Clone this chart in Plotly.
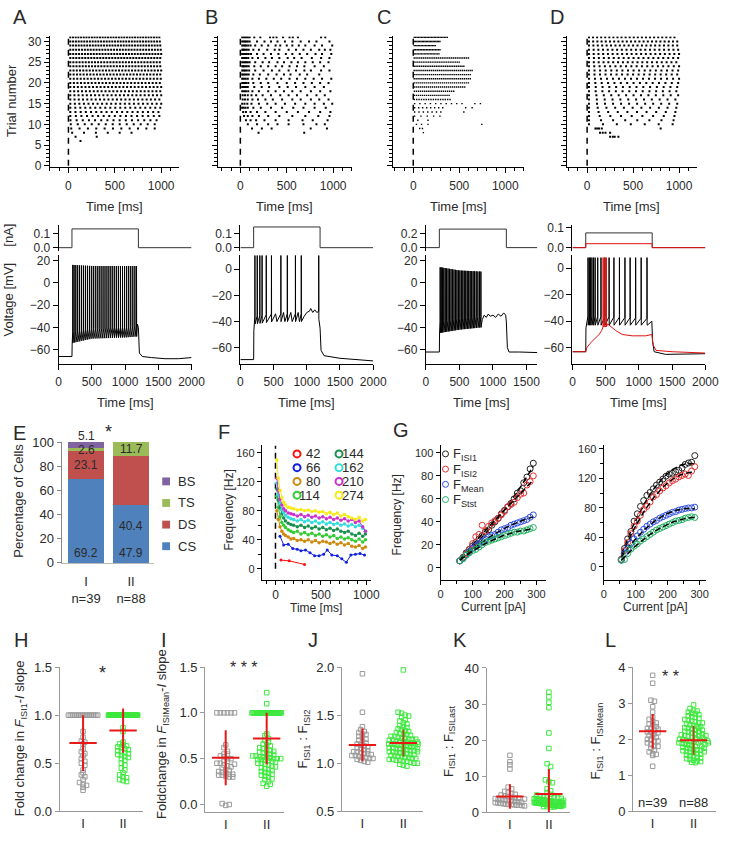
import numpy as np
import plotly.graph_objects as go

W, H = 733, 841
FONT = "Liberation Sans, Arial, sans-serif"
TXT = "#2a2a2a"

# ---------------- DATA ----------------
# Raster A (trial, first spike, last spike, spike count)
A_trials = list(range(6, 32))
A_first = [130, 77, 40, 30, 25, 22, 20, 20, 20, 20, 20, 20, 20, 20, 20, 20, 20, 20, 20, 20, 20, 20, 20, 20, 20, 20]
A_last = [130, 305, 680, 930, 930, 950, 980, 970, 990, 1000, 980, 1000, 990, 1000, 985, 995, 990, 1000, 990, 985, 990, 1000, 995, 990, 985, 980]
A_count = [1, 2, 6, 11, 13, 15, 17, 18, 19, 21, 22, 23, 24, 25, 26, 27, 28, 29, 30, 30, 31, 32, 32, 33, 33, 34]

# Raster B (explicit spike times per trial)
B_spikes = {
    31: [20, 40, 60, 80, 100, 150, 215, 320, 355, 390, 460, 530, 565, 620, 870, 915],
    30: [20, 35, 50, 65, 80, 100, 180, 260, 330, 400, 480, 560, 650, 740, 820, 960],
    29: [20, 35, 50, 65, 85, 110, 160, 230, 300, 380, 430, 500, 560, 630, 700, 800, 880, 990],
    28: [20, 30, 40, 55, 70, 90, 140, 200, 290, 370, 420, 520, 600, 680, 760, 850, 910, 970],
    27: [20, 30, 42, 55, 70, 90, 115, 180, 250, 330, 410, 490, 560, 640, 720, 810, 880, 980],
    26: [20, 35, 50, 65, 85, 130, 190, 270, 340, 420, 510, 580, 660, 770, 870, 960],
    25: [20, 35, 50, 65, 80, 100, 160, 240, 310, 400, 470, 550, 620, 700, 780, 860, 950],
    24: [20, 30, 40, 55, 70, 90, 150, 220, 300, 380, 450, 530, 610, 690, 800, 900],
    23: [20, 35, 50, 70, 95, 160, 250, 340, 420, 520, 600, 690, 760, 870, 960],
    22: [20, 35, 52, 70, 90, 140, 210, 300, 390, 470, 540, 640, 720, 850],
    21: [20, 38, 58, 80, 130, 200, 280, 360, 440, 530, 610, 700, 790, 880, 980],
    20: [20, 40, 60, 85, 140, 220, 300, 400, 500, 590, 680, 770, 860, 950],
    19: [20, 30, 45, 60, 80, 150, 230, 310, 420, 510, 600, 700, 800, 900],
    18: [20, 40, 60, 85, 130, 200, 300, 380, 470, 560, 650, 760, 860, 970],
    17: [25, 50, 80, 120, 170, 240, 330, 430, 520, 610, 720, 820, 910],
    16: [25, 50, 80, 130, 190, 270, 350, 450, 560, 650, 760, 850, 950],
    15: [20, 45, 75, 120, 200, 290, 380, 480, 590, 700, 800, 900, 990],
    14: [20, 35, 55, 80, 140, 220, 330, 450, 570, 680, 800, 920],
    13: [30, 60, 110, 180, 270, 380, 500, 620, 740, 860, 970],
    12: [40, 80, 130, 200, 300, 420, 560, 700, 840, 960],
    11: [60, 110, 170, 260, 380, 520, 670, 780, 940],
    10: [80, 180, 300, 400, 520, 680, 820, 910],
    9: [126, 232, 337, 758, 933],
    8: [196, 688],
}

# Raster C
C_trials = list(range(12, 32))
C_first = [15, 15, 15, 15, 12, 12, 12, 10, 10, 10, 10, 10, 10, 10, 10, 10, 10, 10, 10, 10]
C_last = [290, 300, 320, 530, 400, 390, 440, 560, 600, 620, 620, 640, 550, 500, 600, 280, 290, 240, 290, 370]
C_count = [5, 7, 8, 10, 16, 18, 20, 26, 28, 30, 30, 31, 28, 26, 30, 18, 18, 16, 20, 24]
C_extra = {8: [110], 9: [70, 100], 10: [35, 90, 160, 745], 11: [50, 160], 13: [550], 14: [570, 640], 15: [670, 730]}

# Raster D
D_trials = list(range(10, 32))
D_first = [20] * 22
D_last = [930, 940, 950, 960, 970, 980, 960, 990, 970, 980, 990, 1000, 980, 990, 1000, 970, 990, 1000, 990, 980, 980, 950]
D_count = [7, 8, 9, 10, 11, 12, 12, 13, 14, 14, 15, 16, 17, 17, 18, 19, 19, 20, 20, 21, 22, 22]
D_extra = {7: [250, 280, 300, 340], 8: [140, 170, 200, 250], 9: [90, 110, 130, 160, 800]}

# Current steps [nA]
step_t = [0, 200, 200, 1200, 1200, 2000]
step_amp = {"A": 0.136, "B": 0.15, "C": 0.27, "D": 0.075, "Dred": 0.02}

# Voltage traces: spike times [ms], envelopes and subthreshold key points
A_spk = [212, 232, 258, 286, 315, 345, 375, 405, 435, 466, 497, 527, 558, 589, 620, 651, 682, 713, 744,
         775, 806, 837, 868, 899, 930, 961, 992, 1023, 1054, 1085, 1116, 1147, 1172]
A_env = dict(t=[200, 500, 1000, 1200], ahp=[-54, -50, -49, -48], thr=[-44, -41, -40, -38], peak=[16, 15, 15, 15])
A_pre = dict(t=[0, 200, 203], v=[-66, -66, -55])
A_sub = dict(t=[1185, 1200, 1215, 1260, 1400, 1600, 1800, 2000], v=[-37, -40, -63, -66, -67, -68, -68, -67])

B_spk = [219, 254, 293, 327, 390, 468, 610, 707, 829, 917, 1180]
B_env = dict(t=[200, 500, 1000, 1200], ahp=[-42, -40, -40, -38], thr=[-36, -34, -34, -32], peak=[12, 12, 12, 12])
B_pre = dict(t=[0, 200, 203], v=[-69, -69, -47])
B_sub = dict(t=[530, 550, 650, 670, 760, 780, 870, 890, 960, 1000, 1040, 1060, 1090, 1120, 1150, 1170,
                1200, 1215, 1260, 1500, 2000],
             v=[-34, -40, -33, -40, -33, -40, -33, -40, -36, -33, -32, -30, -33, -31, -33, -32,
                -45, -62, -66, -68, -70])

C_spk = [212, 228, 246, 266, 287, 308, 330, 352, 374, 396, 418, 440, 462, 484, 506, 528, 550, 572,
         594, 616, 638, 660, 682, 704, 726, 750, 775, 800, 820]
C_env = dict(t=[200, 500, 820], ahp=[-45, -42, -40], thr=[-35, -32, -30], peak=[14, 11, 10])
C_pre = dict(t=[0, 200, 203], v=[-62, -62, -45])
C_sub = dict(t=[840, 870, 900, 930, 960, 1000, 1040, 1080, 1120, 1160, 1190, 1200, 1215, 1240, 1400, 1662],
             v=[-33, -29, -31, -28, -30, -29, -31, -28, -30, -27, -29, -35, -58, -62, -62, -62.5])

D_spk = [234, 254, 273, 293, 317, 341, 380, 429, 488, 551, 624, 707, 790, 868, 951, 1034, 1122]
D_env = dict(t=[200, 1200], ahp=[-43, -43], thr=[-36, -38], peak=[8, 8])
D_pre = dict(t=[0, 200, 203], v=[-63, -63, -45])
D_sub = dict(t=[1150, 1195, 1205, 1230, 1400, 2000], v=[-42, -40, -55, -63, -65, -64.5])

Dr_spk = [462, 485, 510]
Dr_env = dict(t=[400, 600], ahp=[-44, -44], thr=[-44, -44], peak=[8, 8])
Dr_pre = dict(t=[0, 200], v=[-63, -63])
Dr_sub = dict(t=[215, 260, 320, 400, 440, 530, 580, 650, 750, 900, 1100, 1195, 1215, 1260, 1500, 2000],
              v=[-60, -57, -54, -50, -47, -42, -44, -47, -50, -51, -51, -50, -58, -62, -63, -64])

# Panel E: firing types (%)
E_groups = ["I", "II"]
E_n = [39, 88]
E_types = ["CS", "DS", "TS", "BS"]
E_values = {"CS": [69.2, 47.9], "DS": [23.1, 40.4], "TS": [2.6, 11.7], "BS": [5.1, 0.0]}
E_colors = {"CS": "#4F81BD", "DS": "#C0504D", "TS": "#9BBB59", "BS": "#8064A2"}

# Panel F: instantaneous frequency over time for different currents [pA]
F_t = [15, 30, 50, 70, 90, 110, 140, 170, 200, 240, 280, 320, 360, 400, 440, 480, 520, 560, 600, 640,
       680, 720, 760, 800, 840, 880, 920, 960, 990]
F_series = {
    "80": [80, 68, 58, 52, 48, 46, 44, 41, 42, 39, 40, 38, 40, 37, 39, 36, 38, 37, 35, 37, 34, 36, 33, 35, 31, 30, 32, 28, 30],
    "114": [100, 85, 72, 64, 60, 57, 54, 52, 50, 52, 48, 50, 47, 49, 46, 48, 45, 47, 44, 46, 42, 44, 41, 43, 40, 38, 41, 37, 40],
    "144": [110, 95, 84, 76, 70, 66, 63, 61, 60, 58, 60, 57, 59, 56, 58, 55, 57, 54, 56, 53, 55, 52, 50, 52, 48, 46, 49, 45, 48],
    "162": [118, 102, 90, 82, 78, 74, 71, 69, 68, 66, 68, 65, 67, 64, 66, 63, 65, 62, 64, 61, 63, 60, 62, 59, 61, 58, 60, 56, 52],
    "210": [125, 108, 96, 88, 83, 80, 77, 76, 75, 73, 75, 72, 74, 71, 73, 70, 72, 69, 71, 68, 70, 67, 69, 66, 68, 64, 66, 58, 52],
    "274": [150, 125, 108, 98, 92, 88, 85, 84, 83, 81, 82, 80, 81, 79, 80, 78, 79, 76, 78, 75, 77, 73, 75, 72, 70, 68, 71, 66, 68],
}
F66_t = [50, 90, 140, 190, 240, 280, 330, 380, 430, 480, 530, 570, 620, 680, 730, 780, 830, 880, 930, 980]
F66_v = [45, 33, 34, 28, 27, 25, 26, 22, 18, 18, 20, 26, 19, 18, 14, 9, 19, 20, 21, 19]
F42_t = [60, 150, 320]
F42_v = [12, 11, 6]
F_order = ["42", "66", "80", "114", "144", "162", "210", "274"]
F_colors = {"42": "#ff1010", "66": "#1020e0", "80": "#cc8a10", "114": "#33cc33", "144": "#1a9050",
            "162": "#33dddd", "210": "#cc33cc", "274": "#f7ea10"}

# Panel G: F-I curves
G1_I = [60, 70, 80, 90, 100, 110, 120, 130, 140, 150, 160, 170, 180, 190, 200, 210, 220, 230, 240, 250, 260, 270, 280, 290]
G1 = {
    "ISI1": [6, 9, 13, 16, 19, 22, 25, 28, 31, 33, 37, 40, 43, 47, 50, 53, 56, 60, 65, 67, 74, 79, 86, 91],
    "ISI2": [6, 9, 12, 16, 21, 27, 29, 37, 32, 36, 39, 41, 43, 46, 49, 53, 55, 57, 61, 64, 65, 72, 75, 80],
    "Mean": [6, 8, 11, 14, 17, 19, 21, 23, 25, 27, 28, 29, 31, 33, 34, 35, 37, 38, 39, 40, 41, 42, 44, 46],
    "Stst": [6, 8, 11, 13, 15, 16, 18, 20, 22, 23, 24, 25, 26, 27, 28, 29, 30, 31, 31, 32, 32, 33, 34, 35],
}
G2_I = [55, 65, 75, 85, 95, 105, 115, 125, 135, 145, 155, 165, 175, 185, 195, 205, 215, 225, 235, 245, 255, 265, 275, 285]
G2 = {
    "ISI1": [10, 25, 38, 48, 62, 72, 82, 90, 97, 101, 106, 111, 115, 119, 123, 126, 127, 129, 131, 134, 139, 141, 142, 151],
    "ISI2": [10, 22, 33, 45, 55, 62, 70, 78, 82, 88, 95, 98, 103, 107, 110, 114, 117, 119, 122, 124, 126, 124, 130, 136],
    "Mean": [9, 18, 25, 32, 38, 42, 47, 51, 55, 58, 61, 63, 66, 68, 70, 72, 74, 75, 77, 78, 79, 80, 80, 81],
    "Stst": [9, 10, 18, 24, 28, 31, 35, 38, 41, 44, 47, 50, 52, 54, 56, 58, 60, 62, 63, 64, 66, 67, 68, 67],
}
G_keys = ["ISI1", "ISI2", "Mean", "Stst"]
G_colors = {"ISI1": "#222222", "ISI2": "#e83030", "Mean": "#3050e0", "Stst": "#20b060"}

# Panels H-L: per-cell values, group I (n=39) and group II (n=88)
H_I = [1.0] * 16 + [0.83, 0.77, 0.73, 0.72, 0.7, 0.65, 0.62, 0.6, 0.58, 0.55, 0.52, 0.5, 0.48, 0.43, 0.4,
                    0.38, 0.36, 0.33, 0.3, 0.28, 0.27, 0.25, 0.22]
H_II = [1.0] * 57 + [0.87, 0.83, 0.72, 0.7, 0.69, 0.68, 0.67, 0.66, 0.65, 0.64, 0.63, 0.62, 0.61, 0.6, 0.59,
                     0.58, 0.57, 0.56, 0.55, 0.53, 0.5, 0.48, 0.45, 0.43, 0.4, 0.38, 0.36, 0.35, 0.33, 0.32, 0.31]
I_I = [1.0] * 6 + [0.65, 0.62, 0.55, 0.55, 0.53, 0.52, 0.5, 0.5, 0.48, 0.47, 0.45, 0.45, 0.43, 0.42, 0.41, 0.4,
                   0.38, 0.37, 0.36, 0.35, 0.34, 0.33, 0.33, 0.32, 0.32, 0.31, 0.3, 0.3, 0.01, -0.01, 0.0, 0.58, 0.44]
I_II = [1.22, 1.1] + [1.0] * 30 + [0.77, 0.75, 0.72, 0.7, 0.68, 0.66, 0.65, 0.64, 0.62, 0.61, 0.6, 0.59, 0.58, 0.57,
                                    0.56, 0.55, 0.55, 0.54, 0.53, 0.53, 0.52, 0.52, 0.51, 0.51, 0.5, 0.5, 0.5, 0.49,
                                    0.49, 0.48, 0.48, 0.47, 0.46, 0.45, 0.45, 0.44, 0.43, 0.42, 0.41, 0.4, 0.39, 0.38,
                                    0.37, 0.36, 0.35, 0.34, 0.33, 0.32, 0.31, 0.3, 0.28, 0.27, 0.25, 0.23, 0.2, 0.22]
J_I = [1.93, 1.53, 1.38, 1.35, 1.33, 1.32, 1.3, 1.3, 1.28, 1.27, 1.25, 1.24, 1.22, 1.21, 1.2, 1.19, 1.18, 1.17,
       1.16, 1.15, 1.14, 1.13, 1.12, 1.12, 1.11, 1.1, 1.1, 1.09, 1.08, 1.08, 1.07, 1.06, 1.06, 1.05, 1.05, 1.04,
       1.03, 1.02, 1.01]
J_II = [1.97, 1.53, 1.52, 1.5, 1.49, 1.48, 1.45, 1.44, 1.42, 1.41, 1.39, 1.38,
        1.37, 1.36, 1.35, 1.34, 1.33, 1.32, 1.31, 1.3, 1.3, 1.29, 1.28, 1.28, 1.27, 1.26, 1.26, 1.25, 1.25, 1.24,
        1.24, 1.23, 1.23, 1.22, 1.22, 1.21, 1.21, 1.2, 1.2, 1.2, 1.19, 1.19, 1.18, 1.18, 1.17, 1.17, 1.16, 1.16,
        1.15, 1.15, 1.14, 1.14, 1.13, 1.13, 1.12, 1.12, 1.11, 1.11, 1.1, 1.1, 1.09, 1.09, 1.08, 1.08, 1.07, 1.07,
        1.06, 1.06, 1.05, 1.05, 1.04, 1.04, 1.03, 1.03, 1.02, 1.02, 1.01, 1.0, 1.0, 0.99, 0.98, 0.97, 1.18, 1.22,
        1.15, 1.25, 1.12, 1.2]
K_I = [15.8, 14, 13.2, 12, 7, 6.5, 5.8, 5.5, 5.2, 5, 4.8, 4.6, 4.4, 4.2, 4, 3.9, 3.8, 3.6, 3.5, 3.4, 3.3, 3.2,
       3.1, 3, 2.9, 2.8, 2.7, 2.6, 2.5, 2.4, 2.3, 2.2, 2.2, 2.1, 2, 2, 1.9, 1.8, 3.7]
K_II = [33.3, 32, 30.5, 29, 22, 17.7, 13.5, 12.7, 9, 8.5, 8.2, 6.5, 6, 5.5,
        5.0, 4.8, 4.6, 4.5, 4.4, 4.2, 4.1, 4.0, 3.9, 3.8, 3.8, 3.7, 3.6, 3.6, 3.5, 3.5, 3.4, 3.4, 3.3, 3.3, 3.2,
        3.2, 3.1, 3.1, 3.0, 3.0, 3.0, 2.9, 2.9, 2.9, 2.8, 2.8, 2.8, 2.7, 2.7, 2.7, 2.6, 2.6, 2.6, 2.5, 2.5, 2.5,
        2.4, 2.4, 2.4, 2.3, 2.3, 2.3, 2.2, 2.2, 2.2, 2.1, 2.1, 2.1, 2.0, 2.0, 2.0, 1.9, 1.9, 1.9, 1.8, 1.8, 1.8,
        1.7, 1.7, 1.7, 1.6, 1.6, 1.5, 1.5, 3.3, 2.6, 2.2, 1.9]
L_I = [3.77, 3.55, 3.08, 3.05, 2.9, 2.75, 2.6, 2.55, 2.5, 2.45, 2.42, 2.4, 2.35, 2.3, 2.3, 2.25, 2.2, 2.2, 2.15,
       2.1, 2.1, 2.05, 2.0, 2.0, 1.95, 1.95, 1.9, 1.85, 1.8, 1.8, 1.75, 1.7, 1.65, 1.6, 1.58, 1.55, 1.25, 2.28, 2.18]
L_II = [2.95, 2.85, 2.8, 2.78, 2.75, 2.72, 2.7, 2.68, 2.65, 2.62, 2.6, 2.58, 2.55, 2.52, 2.5, 2.48, 2.45, 2.42,
        2.4, 2.38, 2.35, 2.32, 2.3, 2.28, 2.25, 2.22, 2.2, 2.18, 2.15, 2.12, 2.1, 2.08, 2.05, 2.03, 2.0, 1.98,
        1.96, 1.94, 1.92, 1.9, 1.88, 1.86, 1.84, 1.82, 1.8, 1.78, 1.76, 1.74, 1.72, 1.7, 1.68, 1.66, 1.64, 1.62,
        1.6, 1.58, 1.56, 1.54, 1.52, 1.5, 1.48, 1.46, 1.44, 1.42, 1.4, 1.38, 1.36, 1.35, 2.3, 2.2, 2.1, 2.0, 1.9,
        1.8, 1.7, 2.25, 2.15, 2.05, 1.95, 1.85, 2.35, 2.45, 1.75, 1.65, 2.0, 1.95, 2.1, 1.9]
# mean and SD as drawn (red crosses)
H_mean, H_sd = [0.71, 0.84], [0.29, 0.23]
I_mean, I_sd = [0.51, 0.72], [0.30, 0.28]
J_mean, J_sd = [1.19, 1.21], [0.17, 0.14]
K_mean, K_sd = [4.4, 5.1], [3.4, 6.9]
L_mean, L_sd = [2.22, 1.97], [0.48, 0.40]

# ---------------- FIGURE ----------------
fig = go.Figure()
layout = dict(width=W, height=H, margin=dict(l=0, r=0, t=0, b=0), paper_bgcolor="white",
              plot_bgcolor="rgba(0,0,0,0)", showlegend=False, font=dict(family=FONT, color=TXT))
annotations = []
shapes = []
axis_count = [0]


def px_dom_x(a, b):
    return [a / W, b / W]


def px_dom_y(top, bot):
    return [1 - bot / H, 1 - top / H]


def base_axis(**kw):
    d = dict(showgrid=False, zeroline=False, showline=True, linecolor="black", linewidth=1.2,
             ticks="outside", ticklen=4, tickwidth=1.2, tickcolor="black",
             tickfont=dict(size=12, family=FONT, color=TXT), fixedrange=True)
    d.update(kw)
    return d


def add_axes(xd, yd, xr, yr, xkw=None, ykw=None):
    axis_count[0] += 1
    n = axis_count[0]
    xn = "xaxis" if n == 1 else f"xaxis{n}"
    yn = "yaxis" if n == 1 else f"yaxis{n}"
    xid = "x" if n == 1 else f"x{n}"
    yid = "y" if n == 1 else f"y{n}"
    layout[xn] = base_axis(domain=px_dom_x(*xd), range=xr, anchor=yid, **(xkw or {}))
    layout[yn] = base_axis(domain=px_dom_y(*yd), range=yr, anchor=xid, **(ykw or {}))
    return xid, yid


def ann(x, y, text, size=13, angle=0, xanchor="center", yanchor="middle", color=TXT, xref="paper", yref="paper"):
    if xref == "paper":
        x = x / W
    if yref == "paper":
        y = 1 - y / H
    annotations.append(dict(x=x, y=y, xref=xref, yref=yref, text=text, showarrow=False, textangle=angle,
                            xanchor=xanchor, yanchor=yanchor, font=dict(size=size, family=FONT, color=color)))


# ---- Rasters ----
raster_specs = [((48, 180), [-200, 1190], True), ((220, 357), [-242, 1200], False),
                ((399, 533), [-223, 1200], False), ((577, 710), [-223, 1190], False)]


def raster_points(trials, first, last, count, extra):
    xs, ys = [], []
    for tr, f, l, c in zip(trials, first, last, count):
        tt = [l] if c == 1 else list(np.linspace(f, l, c))
        xs += tt
        ys += [tr] * len(tt)
    for tr, tt in extra.items():
        xs += tt
        ys += [tr] * len(tt)
    return xs, ys


bx, by = [], []
for tr, tt in B_spikes.items():
    bx += tt
    by += [tr] * len(tt)
raster_data = [raster_points(A_trials, A_first, A_last, A_count, {}), (bx, by),
               raster_points(C_trials, C_first, C_last, C_count, C_extra),
               raster_points(D_trials, D_first, D_last, D_count, D_extra)]
raster_msize = [2, 2, 1.4, 2]

for (xd, xr, lab), (rx, ry), ms in zip(raster_specs, raster_data, raster_msize):
    xa, ya = add_axes(xd, (30, 163), xr, [-0.3, 31.2],
                      dict(tickvals=[0, 500, 1000], ticklen=5, ticklabelstandoff=2,
                           minor=dict(dtick=100, ticklen=3, tickcolor="black", tick0=0)),
                      dict(tickvals=list(range(0, 31, 5)), showticklabels=lab, ticklen=5,
                           minor=dict(dtick=1, ticklen=3, tickcolor="black")))
    fig.add_trace(go.Scatter(x=[0, 0], y=[0, 31], mode="lines", line=dict(color="black", width=1.5, dash="6px,5px"),
                             xaxis=xa, yaxis=ya, hoverinfo="skip"))
    fig.add_trace(go.Scatter(x=rx, y=ry, mode="markers", marker=dict(symbol="square", size=ms, color="black"),
                             xaxis=xa, yaxis=ya, hoverinfo="skip"))
    ann((xd[0] + xd[1]) / 2, 203, "Time [ms]", 13)

ann(8, 95, "Trial number", 13, angle=-90)
for lt, x in zip("ABCD", [17, 213, 390, 567]):
    ann(x, 10, lt, 20)


# ---- Traces ----
def build_vm(pre, spk, env, sub):
    pts = list(zip(pre["t"], pre["v"])) + list(zip(sub["t"], sub["v"]))
    for s in spk:
        pts.append((s - 1.0, float(np.interp(s, env["t"], env["thr"]))))
        pts.append((s, float(np.interp(s, env["t"], env["peak"]))))
        pts.append((s + 2.0, float(np.interp(s, env["t"], env["ahp"]))))
    pts.sort()
    return [p[0] for p in pts], [p[1] for p in pts]


trace_specs = [
    ("A", (57, 193), 2000, [-0.021, 0.164], [0, 0.1], ["0.0", "0.1"], [-72.3, 24.4], [-60, -40, -20, 0, 20],
     [(A_pre, A_spk, A_env, A_sub, "black")], ["A"]),
    ("B", (243, 379), 2000, [-0.021, 0.164], [0, 0.1], ["0.0", "0.1"], [-72, 10.5], [-60, -40, -20, 0],
     [(B_pre, B_spk, B_env, B_sub, "black")], ["B"]),
    ("C", (433, 547), 1662, [-0.043, 0.329], [0, 0.2], ["0.0", "0.2"], [-72.3, 24.4], [-60, -40, -20, 0, 20],
     [(C_pre, C_spk, C_env, C_sub, "black")], ["C"]),
    ("D", (583, 719), 2000, [-0.015, 0.115], [0, 0.1], ["0.0", "0.1"], [-71.9, 9.6], [-60, -40, -20, 0],
     [(D_pre, D_spk, D_env, D_sub, "black"), (Dr_pre, Dr_spk, Dr_env, Dr_sub, "#e01010")], ["D", "Dred"]),
]
for name, xd, tmax, cr, cvals, ctext, vr, vvals, vms, steps in trace_specs:
    xa, ya = add_axes(xd, (222, 248), [0, tmax], cr, dict(visible=False),
                      dict(tickvals=cvals, ticktext=ctext, ticklen=5))
    for s in steps:
        amp = step_amp[s]
        tt = [min(t, tmax) for t in step_t]
        fig.add_trace(go.Scatter(x=tt, y=[0, 0, amp, amp, 0, 0], mode="lines",
                                 line=dict(color="#e01010" if s == "Dred" else "#333", width=1),
                                 xaxis=xa, yaxis=ya, hoverinfo="skip"))
    xa, ya = add_axes(xd, (253, 363), [0, tmax], vr,
                      dict(tickvals=[0, 500, 1000, 1500, 2000], ticklen=5, ticklabelstandoff=2),
                      dict(tickvals=vvals, ticklen=5))
    for pre, spk, env, sub, col in vms:
        tx, vy = build_vm(pre, spk, env, sub)
        fig.add_trace(go.Scatter(x=tx, y=vy, mode="lines", line=dict(color=col, width=1),
                                 xaxis=xa, yaxis=ya, hoverinfo="skip"))
    ann((xd[0] + xd[1]) / 2, 403, "Time [ms]", 13)
ann(6, 232, "[nA]", 13, angle=-90)
ann(6, 298, "Voltage [mV]", 13, angle=-90)

# ---- E ----
xa, ya = add_axes((60, 155), (443, 566), [0.457, 2.52], [0, 100],
                  dict(tickvals=[1, 2], ticktext=[f"{g}<br>n={n}" for g, n in zip(E_groups, E_n)], ticks="",
                       ticklabelstandoff=6, linecolor="#bbb", tickfont=dict(size=13, family=FONT, color=TXT)),
                  dict(tickvals=[0, 20, 40, 60, 80, 100], linecolor="#888", tickcolor="#888",
                       tickfont=dict(size=13, family=FONT, color=TXT)))
for t in E_types:
    fig.add_trace(go.Bar(x=[1, 2], y=E_values[t], width=0.78, marker=dict(color=E_colors[t], line=dict(width=0)),
                         xaxis=xa, yaxis=ya, hoverinfo="skip"))
layout["barmode"] = "stack"
E_label_y = {"CS": [8, 8], "DS": [81, 30.5], "TS": [93.6, 94]}
for t in ["CS", "DS", "TS"]:
    for gi in range(2):
        ann(gi + 1, E_label_y[t][gi], f"{E_values[t][gi]:.1f}", 12, xref=xa, yref=ya)
ann(85, 437, f"{E_values['BS'][0]:.1f}", 12)
for i, t in enumerate(["BS", "TS", "DS", "CS"]):
    yy = 483 + 22 * i
    shapes.append(dict(type="rect", xref="paper", yref="paper", x0=163 / W, x1=171 / W,
                       y0=1 - (yy + 4) / H, y1=1 - (yy - 4) / H, fillcolor=E_colors[t], line=dict(width=0)))
    ann(177, yy, t, 13, xanchor="left")
ann(108, 433, "*", 18)
ann(15, 503, "Percentage of Cells", 13, angle=-90)
ann(17, 434, "E", 20)

# ---- F ----
xa, ya = add_axes((265, 377), (446, 583), [-150, 1054], [-14.9, 170.8],
                  dict(tickvals=[0, 500, 1000], minor=dict(dtick=100, ticklen=3, tickcolor="black", tick0=0),
                       tickfont=dict(size=12, family=FONT, color=TXT)),
                  dict(tickvals=[0, 40, 80, 120, 160], minor=dict(dtick=20, ticklen=3, tickcolor="black"),
                       tickfont=dict(size=11, family=FONT, color=TXT)))
fig.add_trace(go.Scatter(x=[0, 0], y=[0, 170], mode="lines", line=dict(color="black", width=1.5, dash="6px,4px"),
                         xaxis=xa, yaxis=ya, hoverinfo="skip"))
fig.add_trace(go.Scatter(x=F42_t, y=F42_v, mode="lines+markers", line=dict(color=F_colors["42"], width=1),
                         marker=dict(size=3, color=F_colors["42"]), xaxis=xa, yaxis=ya, hoverinfo="skip"))
fig.add_trace(go.Scatter(x=F66_t, y=F66_v, mode="lines+markers", line=dict(color=F_colors["66"], width=1),
                         marker=dict(size=3, color=F_colors["66"]), xaxis=xa, yaxis=ya, hoverinfo="skip"))
for k in ["80", "114", "144", "162", "210", "274"]:
    fig.add_trace(go.Scatter(x=F_t, y=F_series[k], mode="lines+markers", line=dict(color=F_colors[k], width=1),
                             marker=dict(size=3.5, color=F_colors[k]), xaxis=xa, yaxis=ya, hoverinfo="skip"))
# legend for F
leg_x = []
leg_y = []
leg_c = []
for i, k in enumerate(F_order):
    col, row = divmod(i, 4)
    yy = 455 + 14 * row
    leg_x.append((301 if col == 0 else 344) / W)
    leg_y.append(1 - yy / H)
    leg_c.append(F_colors[k])
    ann(327 if col == 0 else 372, yy, k, 13, xanchor="right")
ann(320, 612, "Time [ms]", 12)
ann(231, 512, "Frequency [Hz]", 12, angle=-90)
ann(226, 433, "F", 20)

# ---- G ----
g_specs = [((448, 556), [0, 330], [-10.3, 106.8], [0, 20, 40, 60, 80, 100], None, G1_I, G1),
           ((615, 720), [0, 321], [-17.3, 165.3], [0, 40, 80, 120, 160], 20, G2_I, G2)]
for xd, xr, yr, yt, ymin, gi, gd in g_specs:
    ykw = dict(tickvals=yt, tickfont=dict(size=11, family=FONT, color=TXT))
    if ymin:
        ykw["minor"] = dict(dtick=ymin, ticklen=3, tickcolor="black")
    xa, ya = add_axes(xd, (446, 583), xr, yr,
                      dict(tickvals=[0, 100, 200, 300], minor=dict(dtick=50, ticklen=3, tickcolor="black"),
                           tickfont=dict(size=11, family=FONT, color=TXT)), ykw)
    for k in G_keys:
        fig.add_trace(go.Scatter(x=gi, y=gd[k], mode="markers",
                                 marker=dict(symbol="circle-open", size=6, color=G_colors[k], line=dict(width=1)),
                                 xaxis=xa, yaxis=ya, hoverinfo="skip"))
        coef = np.polyfit(gi, gd[k], 2)
        xx = np.linspace(gi[0], gi[-1], 60)
        fig.add_trace(go.Scatter(x=xx, y=np.polyval(coef, xx), mode="lines",
                                 line=dict(color="black", width=1.5, dash="6px,3px"),
                                 xaxis=xa, yaxis=ya, hoverinfo="skip"))
    ann((xd[0] + xd[1]) / 2, 611, "Current [pA]", 12)
ann(403, 517, "Frequency [Hz]", 12, angle=-90)
ann(407, 431, "G", 20)
g_leg_text = {"ISI1": "F<sub>ISI1</sub>", "ISI2": "F<sub>ISI2</sub>", "Mean": "F<sub>Mean</sub>", "Stst": "F<sub>Stst</sub>"}
for i, k in enumerate(G_keys):
    yy = 455 + 15.5 * i
    leg_x.append(453 / W)
    leg_y.append(1 - yy / H)
    leg_c.append(G_colors[k])
    ann(459, yy + 1, g_leg_text[k], 13, xanchor="left")

# legend markers (paper space overlay axis)
axis_count[0] += 1
n = axis_count[0]
layout[f"xaxis{n}"] = dict(domain=[0, 1], range=[0, 1], visible=False, fixedrange=True, anchor=f"y{n}")
layout[f"yaxis{n}"] = dict(domain=[0, 1], range=[0, 1], visible=False, fixedrange=True, anchor=f"x{n}")
fig.add_trace(go.Scatter(x=leg_x[:8], y=leg_y[:8], mode="markers",
                         marker=dict(symbol="circle-open", size=7, color=leg_c[:8], line=dict(width=2)),
                         xaxis=f"x{n}", yaxis=f"y{n}", hoverinfo="skip"))
fig.add_trace(go.Scatter(x=leg_x[8:], y=leg_y[8:], mode="markers",
                         marker=dict(symbol="circle-open", size=6, color=leg_c[8:], line=dict(width=1)),
                         xaxis=f"x{n}", yaxis=f"y{n}", hoverinfo="skip"))


# ---- H-L scatter ----
def swarm(vals, center, ypp, xpp, sq=3.6, wmax=30.0):
    vals = np.asarray(vals, float)
    keys = np.round(vals / (4.0 * ypp)).astype(int)
    xs = np.zeros_like(vals)
    for k in np.unique(keys):
        idx = np.where(keys == k)[0]
        m = len(idx)
        step = sq if m < 2 or (m - 1) * sq <= wmax else wmax / (m - 1)
        offs = (np.arange(m) - (m - 1) / 2) * step
        xs[idx] = center + offs * xpp
    return xs


scat_specs = [
    ("H", (58, 143), [0.415, 2.49], (672, 819), [0, 1.5], [0, 0.5, 1.0, 1.5], ["0.0", "0.5", "1.0", "1.5"],
     H_I, H_II, H_mean, H_sd, "#e81818"),
    ("I", (207, 288), [0.5, 2.43], (672, 820), [-0.086, 1.5], [0, 0.5, 1.0, 1.5], ["0.0", "0.5", "1.0", "1.5"],
     I_I, I_II, I_mean, I_sd, "#e81818"),
    ("J", (347, 430), [0.5, 2.48], (672, 819), [0.5, 2.0], [0.5, 1.0, 1.5, 2.0], ["0.5", "1.0", "1.5", "2.0"],
     J_I, J_II, J_mean, J_sd, "#9a5a10"),
    ("K", (495, 580), [0.4, 2.53], (673, 820), [0, 40], [0, 10, 20, 30, 40], None, K_I, K_II, K_mean, K_sd,
     "#e81818"),
    ("L", (645, 730), [0.52, 2.55], (672, 819), [0, 4], [0, 1, 2, 3, 4], None, L_I, L_II, L_mean, L_sd,
     "#9a5a10"),
]
for name, xd, xr, yd, yr, yt, ytt, gI, gII, mean, sd, vcol2 in scat_specs:
    ykw = dict(tickvals=yt, linecolor="#999", tickcolor="#999", linewidth=1, tickwidth=1,
               tickfont=dict(size=13, family=FONT, color=TXT))
    if ytt:
        ykw["ticktext"] = ytt
    xa, ya = add_axes(xd, yd, xr, yr,
                      dict(tickvals=[1, 2], ticktext=["I", "II"], ticks="", linecolor="#999", linewidth=1,
                           tickfont=dict(size=13, family=FONT, color=TXT)), ykw)
    xpp = (xr[1] - xr[0]) / (xd[1] - xd[0])
    ypp = (yr[1] - yr[0]) / (yd[1] - yd[0])
    for ci, (vals, col) in enumerate([(gI, "#9a9a9a"), (gII, "#3ee83e")]):
        xs = swarm(vals, ci + 1, ypp, xpp)
        fig.add_trace(go.Scatter(x=xs, y=vals, mode="markers", cliponaxis=False,
                                 marker=dict(symbol="square-open", size=4.5, color=col, line=dict(width=1)),
                                 xaxis=xa, yaxis=ya, hoverinfo="skip"))
        hw = 14 * xpp
        fig.add_trace(go.Scatter(x=[ci + 1, ci + 1], y=[mean[ci] - sd[ci], mean[ci] + sd[ci]], mode="lines",
                                 line=dict(color="#e81818" if ci == 0 else vcol2, width=2),
                                 xaxis=xa, yaxis=ya, hoverinfo="skip"))
        fig.add_trace(go.Scatter(x=[ci + 1 - hw, ci + 1 + hw], y=[mean[ci], mean[ci]], mode="lines",
                                 line=dict(color="#e81818", width=2), xaxis=xa, yaxis=ya, hoverinfo="skip"))

ann(18, 745, "Fold change in <i>F</i><sub>ISI1</sub>-<i>I</i> slope", 13, angle=-90)
ann(164, 740, "Foldchange in <i>F</i><sub>ISIMean</sub>-<i>I</i> slope", 13, angle=-90)
ann(308, 745, "F<sub>ISI1</sub> : F<sub>ISI2</sub>", 13, angle=-90)
ann(457, 747, "F<sub>ISI1</sub> : F<sub>ISILast</sub>", 13, angle=-90)
ann(608, 747, "F<sub>ISI1</sub> : F<sub>ISIMean</sub>", 13, angle=-90)
ann(102, 678, "*", 18)
ann(247, 673, "* * *", 16)
ann(683, 682, "* *", 16)
ann(665, 810, f"n={E_n[0]}", 13)
ann(707, 810, f"n={E_n[1]}", 13)
for lt, x in zip("HIJKL", [18, 165, 317, 468, 622]):
    ann(x, 645, lt, 20)

layout["annotations"] = annotations
layout["shapes"] = shapes
fig.update_layout(**layout)
fig.write_html("out.html", config={"displayModeBar": False},
               post_script="document.body.style.margin='0px';document.body.style.overflow='hidden';")
